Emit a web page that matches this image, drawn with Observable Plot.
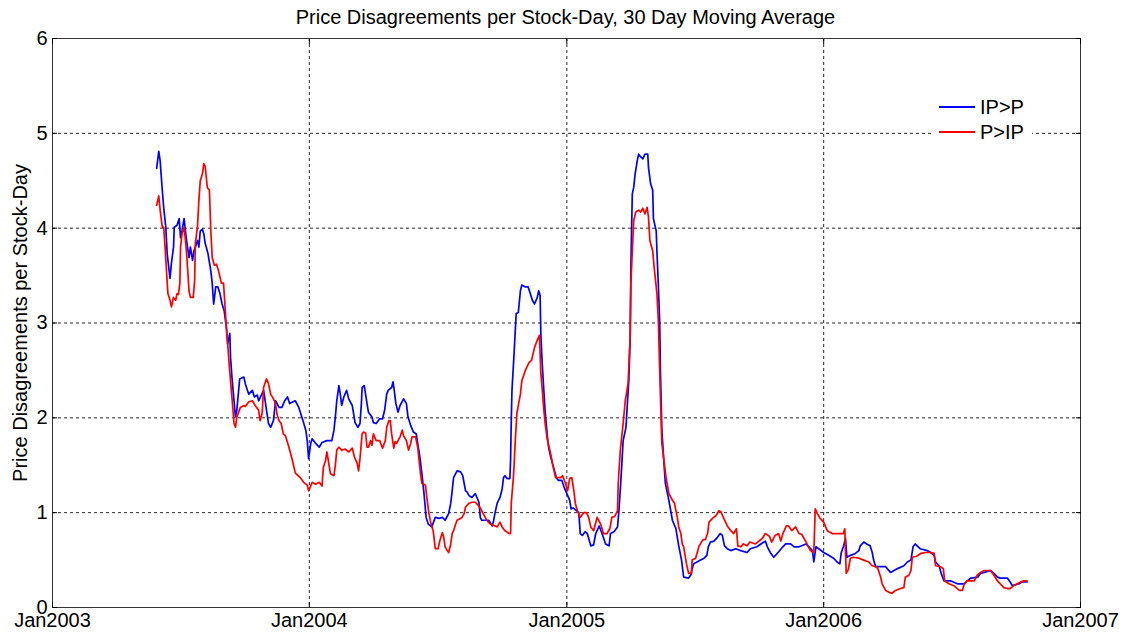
<!DOCTYPE html>
<html><head><meta charset="utf-8">
<script src="https://cdn.jsdelivr.net/npm/d3@7"></script>
<script src="https://cdn.jsdelivr.net/npm/@observablehq/plot@0.6"></script>
<style>
body{margin:0;background:#fff;font-family:"Liberation Sans",Arial,sans-serif;color:#000}
#wrap{position:relative;width:1131px;height:637px;overflow:hidden}
#title{height:30px;padding-top:6px;box-sizing:border-box;line-height:22px;text-align:center;font-size:20px}
#chart svg{overflow:visible;display:block}
#legend{position:absolute;left:932px;top:94px;width:100px;height:52px;background:#fff;font-size:20px}
#legend .row{position:absolute;left:0;height:22px;display:flex;align-items:center}
#legend svg{display:block}
</style></head>
<body>
<div id="wrap">
<div id="title"></div>
<div id="chart"></div>
<div id="legend"></div>
</div>
<script>
const titleText = "Price Disagreements per Stock-Day, 30 Day Moving Average";
const yLabel = "Price Disagreements per Stock-Day";
const seriesNames = ["IP>P", "P>IP"];
const seriesColors = ["#0000ff", "#ff0000"];
const yTickValues = [0, 1, 2, 3, 4, 5, 6];
const xTickYears = [2003, 2004, 2005, 2006, 2007];

// days since 2003-01-01
const ipDays = [
148,151,153,156,158,161,163,167,169,172,
173,177,180,182,184,187,190,194,196,199,
201,203,206,208,210,213,215,217,221,225,
227,229,232,235,238,241,244,247,249,252,
253,255,258,260,262,266,272,274,277,279,
284,287,291,293,300,307,310,314,317,322,
326,330,334,337,345,350,356,360,362,364,
367,369,374,379,383,390,397,400,402,404,
407,409,411,414,418,421,426,428,430,434,
437,439,440,443,447,449,454,456,460,465,
469,472,475,477,482,484,486,488,491,494,
499,503,505,509,513,517,519,522,525,528,
531,534,539,544,549,554,558,563,566,568,
570,575,580,583,585,587,589,592,596,601,
606,608,610,620,625,627,629,632,636,639,
641,643,646,650,651,652,653,656,659,662,
665,667,672,676,679,682,685,689,691,693,
694,696,698,700,703,705,708,712,716,719,
724,727,731,735,737,740,745,748,750,753,
757,760,765,769,772,777,781,786,791,793,
798,803,805,808,811,815,817,819,821,822,
824,826,828,831,833,835,839,842,846,847,
850,853,854,858,859,861,863,864,866,869,
871,876,881,886,890,894,897,904,907,911,
921,926,930,932,935,940,945,949,952,955,
959,964,971,978,987,992,1001,1011,1013,1016,
1020,1025,1030,1038,1042,1049,1054,1061,1071,1080,
1082,1085,1089,1096,1103,1110,1115,1119,1121,1124,
1127,1129,1134,1141,1146,1148,1153,1157,1162,1165,
1167,1170,1174,1184,1191,1196,1201,1210,1215,1220,
1223,1226,1233,1243,1248,1253,1255,1260,1263,1267,
1277,1286,1296,1300,1305,1315,1319,1324,1333,1338,
1343,1347,1357,1361,1364,1374,1378,1385];
const ipVals = [
4.63,4.81,4.71,4.40,4.22,4.01,3.73,3.47,3.63,3.80,
4.01,4.03,4.10,3.90,3.97,4.10,3.90,3.69,3.80,3.66,
3.76,3.80,3.87,3.80,3.97,3.99,3.94,3.84,3.73,3.55,
3.42,3.20,3.38,3.38,3.31,3.20,3.13,2.96,2.78,2.89,
2.64,2.43,2.18,2.01,2.08,2.41,2.43,2.36,2.29,2.25,
2.29,2.22,2.24,2.18,2.29,1.94,1.90,1.97,2.18,2.11,
2.11,2.18,2.22,2.15,2.18,2.11,1.97,1.87,1.76,1.57,
1.73,1.78,1.73,1.69,1.74,1.76,1.76,1.87,2.01,2.18,
2.34,2.25,2.13,2.22,2.29,2.20,2.13,2.04,1.95,1.90,
1.94,2.15,2.32,2.34,2.15,2.06,2.01,1.95,1.94,1.99,
1.99,2.08,2.25,2.29,2.32,2.38,2.27,2.15,2.06,2.13,
2.20,2.15,2.02,1.92,1.85,1.83,1.73,1.59,1.41,1.20,
0.95,0.88,0.85,0.95,0.94,0.95,0.92,0.99,1.10,1.23,
1.37,1.44,1.43,1.39,1.31,1.23,1.22,1.18,1.16,1.20,
1.11,0.95,0.92,0.92,0.86,0.92,1.00,1.10,1.16,1.25,
1.37,1.39,1.36,1.36,1.55,1.97,2.29,2.68,3.10,3.11,
3.34,3.40,3.38,3.38,3.31,3.24,3.20,3.27,3.34,3.29,
2.89,2.57,2.32,2.08,1.83,1.69,1.59,1.48,1.37,1.34,
1.34,1.27,1.20,1.13,1.04,1.05,1.02,1.00,0.78,0.76,
0.80,0.78,0.65,0.66,0.78,0.86,0.78,0.67,0.65,0.78,
0.80,0.85,1.02,1.37,1.76,1.90,2.15,2.39,2.85,3.60,
4.36,4.43,4.57,4.71,4.78,4.76,4.73,4.78,4.78,4.64,
4.47,4.40,4.10,3.97,3.76,3.40,3.00,2.50,1.87,1.52,
1.31,1.13,0.92,0.83,0.65,0.50,0.32,0.31,0.34,0.46,
0.50,0.52,0.55,0.64,0.69,0.70,0.74,0.78,0.76,0.65,
0.62,0.60,0.62,0.60,0.58,0.62,0.64,0.69,0.70,0.64,
0.58,0.53,0.57,0.64,0.67,0.67,0.64,0.64,0.67,0.60,
0.48,0.64,0.62,0.58,0.55,0.52,0.48,0.46,0.58,0.64,
0.73,0.53,0.55,0.57,0.60,0.65,0.69,0.67,0.65,0.58,
0.50,0.43,0.43,0.43,0.37,0.39,0.41,0.44,0.48,0.50,
0.64,0.67,0.62,0.60,0.58,0.55,0.48,0.44,0.36,0.28,
0.28,0.25,0.25,0.28,0.31,0.32,0.36,0.37,0.39,0.36,
0.32,0.31,0.31,0.27,0.23,0.25,0.27,0.27];

const pDays = [
148,151,153,156,158,160,162,164,167,169,
172,175,177,179,181,182,184,187,189,191,
194,196,200,202,203,206,208,210,213,215,
217,220,223,225,227,230,233,236,240,243,
245,247,249,251,253,255,258,260,262,267,
272,274,279,284,288,293,295,298,300,304,
307,310,314,317,319,322,325,328,331,336,
341,345,352,357,362,364,369,374,379,383,
385,388,390,393,395,400,402,404,407,411,
416,421,426,429,433,435,437,440,442,445,
447,449,452,454,456,460,465,469,473,475,
478,480,482,485,487,489,494,497,499,503,
506,509,511,516,519,521,523,525,530,532,
535,538,541,544,548,550,554,556,558,561,
563,566,568,570,573,575,582,585,587,592,
596,601,607,610,615,617,622,632,636,639,
643,649,651,652,655,656,658,660,665,667,
672,677,681,685,689,692,694,696,698,700,
703,708,711,715,722,725,729,732,735,738,
741,743,746,750,755,759,762,765,769,774,
779,783,788,792,795,799,803,804,807,811,
814,818,821,822,824,826,829,833,836,839,
842,845,847,849,850,853,855,857,859,861,
864,866,869,872,876,879,881,884,886,888,
890,893,895,897,901,904,908,909,914,919,
924,928,931,933,938,943,947,950,954,959,
964,968,972,974,978,982,987,991,999,1009,
1013,1019,1022,1027,1032,1035,1038,1043,1046,1051,
1056,1061,1065,1071,1077,1082,1084,1087,1091,1096,
1101,1108,1115,1124,1126,1128,1131,1134,1138,1146,
1153,1160,1165,1170,1173,1177,1179,1184,1189,1193,
1198,1205,1210,1212,1217,1220,1222,1228,1234,1241,
1248,1253,1255,1262,1266,1268,1274,1281,1284,1289,
1293,1296,1300,1310,1314,1319,1324,1333,1338,1343,
1347,1352,1357,1361,1366,1371,1376,1380,1385];
const pVals = [
4.24,4.34,4.19,4.01,4.01,3.80,3.55,3.31,3.24,3.17,
3.27,3.24,3.31,3.30,3.42,3.80,3.94,4.01,3.87,3.69,
3.34,3.27,3.27,3.45,3.84,4.01,4.29,4.50,4.57,4.68,
4.65,4.43,4.40,3.97,3.69,3.61,3.62,3.55,3.42,3.42,
3.20,2.96,2.78,2.57,2.39,2.22,1.94,1.90,2.01,2.11,
2.13,2.12,2.17,2.18,2.13,2.08,1.97,2.05,2.32,2.41,
2.36,2.25,2.20,2.15,2.04,1.97,1.94,1.83,1.81,1.69,
1.55,1.42,1.37,1.32,1.29,1.23,1.32,1.30,1.32,1.28,
1.48,1.55,1.64,1.50,1.41,1.39,1.50,1.66,1.69,1.66,
1.67,1.64,1.68,1.59,1.52,1.44,1.57,1.83,1.85,1.84,
1.69,1.69,1.76,1.71,1.83,1.76,1.76,1.68,1.76,1.90,
1.97,1.97,1.83,1.68,1.75,1.73,1.80,1.87,1.81,1.76,
1.66,1.73,1.80,1.80,1.69,1.55,1.41,1.31,1.29,1.16,
0.99,0.88,0.81,0.62,0.62,0.69,0.79,0.74,0.64,0.60,
0.58,0.67,0.78,0.81,0.88,0.92,0.95,0.99,1.06,1.10,
1.11,1.11,1.06,1.02,0.95,0.92,0.88,0.85,0.90,0.85,
0.81,0.78,0.78,1.10,1.37,1.50,1.80,2.05,2.25,2.39,
2.50,2.58,2.61,2.74,2.82,2.87,2.47,2.30,2.11,1.95,
1.78,1.62,1.50,1.37,1.37,1.39,1.31,1.23,1.36,1.37,
1.23,1.10,1.02,0.95,1.00,1.00,0.95,0.85,0.81,0.95,
0.88,0.78,0.78,0.83,0.95,0.96,1.02,1.31,1.66,1.94,
2.18,2.36,2.85,3.41,3.76,4.08,4.17,4.19,4.17,4.21,
4.15,4.22,4.12,3.87,3.84,3.76,3.59,3.45,3.31,3.03,
2.22,1.73,1.55,1.37,1.20,1.16,1.13,1.10,1.02,0.95,
0.85,0.78,0.67,0.64,0.46,0.36,0.36,0.50,0.52,0.65,
0.71,0.72,0.78,0.90,0.94,0.97,1.02,1.01,0.94,0.86,
0.81,0.78,0.83,0.65,0.64,0.67,0.65,0.69,0.67,0.73,
0.78,0.75,0.69,0.76,0.78,0.70,0.78,0.86,0.86,0.81,
0.85,0.78,0.77,0.69,0.60,0.58,1.04,0.99,0.94,0.90,
0.81,0.78,0.78,0.78,0.83,0.36,0.40,0.52,0.53,0.52,
0.50,0.48,0.44,0.43,0.41,0.32,0.25,0.18,0.16,0.15,
0.18,0.20,0.21,0.32,0.34,0.39,0.53,0.54,0.57,0.58,
0.58,0.57,0.44,0.43,0.41,0.28,0.25,0.23,0.21,0.18,
0.18,0.25,0.28,0.28,0.34,0.37,0.39,0.39,0.34,0.28,
0.25,0.21,0.20,0.20,0.23,0.25,0.27,0.28,0.28];

const origin = new Date(Date.UTC(2003, 0, 1));
const toDate = d => d3.utcDay.offset(origin, d);
const ipData = ipDays.map((d, i) => ({date: toDate(d), value: ipVals[i]}));
const pData = pDays.map((d, i) => ({date: toDate(d), value: pVals[i]}));
const xTicks = xTickYears.map(y => new Date(Date.UTC(y, 0, 1)));
const fmt = d3.utcFormat("%b%Y");

document.getElementById("title").textContent = titleText;

const gridStyle = {stroke: "#000", strokeOpacity: 0.85, strokeDasharray: "3,3", strokeWidth: 1};
const chart = Plot.plot({
  width: 1131, height: 607,
  marginTop: 8, marginBottom: 30, marginLeft: 52, marginRight: 51,
  style: {fontFamily: "'Liberation Sans', Arial, sans-serif", fontSize: "20px", color: "#000", background: "#fff", overflow: "visible"},
  x: {type: "utc", domain: [xTicks[0], xTicks[xTicks.length - 1]]},
  y: {domain: [yTickValues[0], yTickValues[yTickValues.length - 1]]},
  marks: [
    Plot.gridX(xTicks, gridStyle),
    Plot.gridY(yTickValues, gridStyle),
    Plot.line(ipData, {x: "date", y: "value", stroke: seriesColors[0], strokeWidth: 1.7}),
    Plot.line(pData, {x: "date", y: "value", stroke: seriesColors[1], strokeWidth: 1.7}),
    Plot.frame({stroke: "#333"}),
    Plot.axisX(xTicks, {anchor: "bottom", tickSize: -5, tickPadding: 10, tickFormat: fmt, label: null, fontSize: 20}),
    Plot.axisX(xTicks, {anchor: "top", tickSize: -5, tickFormat: () => "", label: null}),
    Plot.axisY(yTickValues, {anchor: "left", tickSize: -5, tickPadding: 10, tickFormat: d3.format("d"), label: null, fontSize: 20}),
    Plot.axisY(yTickValues, {anchor: "right", tickSize: -5, tickFormat: () => "", label: null}),
    Plot.text([yLabel], {frameAnchor: "left", dx: -32, rotate: -90, textAnchor: "middle", lineAnchor: "middle", text: d => d, fontSize: 20, fill: "#000"})
  ]
});
document.getElementById("chart").appendChild(chart);

const legend = document.getElementById("legend");
seriesNames.forEach((name, i) => {
  const row = document.createElement("div");
  row.className = "row";
  row.style.top = (2 + i * 25) + "px";
  row.innerHTML = `<svg width="48" height="22"><line x1="7" x2="43" y1="11" y2="11" stroke="${seriesColors[i]}" stroke-width="2"/></svg><span></span>`;
  row.querySelector("span").textContent = name;
  legend.appendChild(row);
});
</script>
</body></html>
